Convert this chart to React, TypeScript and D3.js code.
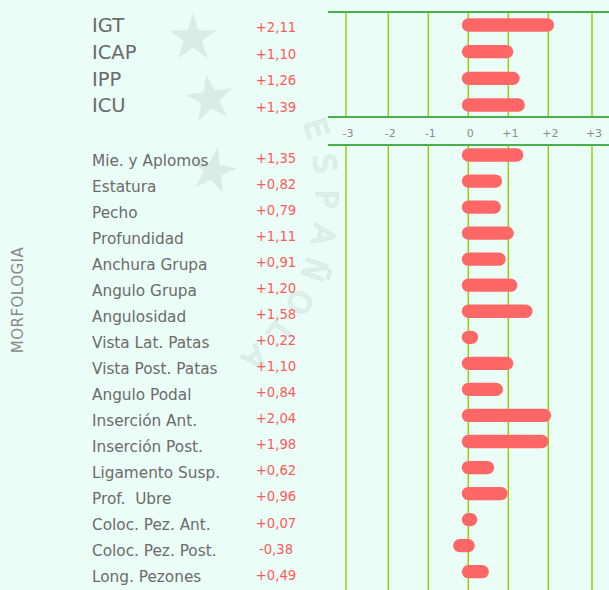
import React from "react";
import * as d3 from "d3";

const topCategories = ["IGT", "ICAP", "IPP", "ICU"];
const topValues = [2.11, 1.1, 1.26, 1.39];

const morphCategories = [
  "Mie. y Aplomos",
  "Estatura",
  "Pecho",
  "Profundidad",
  "Anchura Grupa",
  "Angulo Grupa",
  "Angulosidad",
  "Vista Lat. Patas",
  "Vista Post. Patas",
  "Angulo Podal",
  "Inserción Ant.",
  "Inserción Post.",
  "Ligamento Susp.",
  "Prof.  Ubre",
  "Coloc. Pez. Ant.",
  "Coloc. Pez. Post.",
  "Long. Pezones",
];
const morphValues = [
  1.35, 0.82, 0.79, 1.11, 0.91, 1.2, 1.58, 0.22, 1.1, 0.84, 2.04, 1.98, 0.62,
  0.96, 0.07, -0.38, 0.49,
];

const tickValues = [-3, -2, -1, 0, 1, 2, 3];
const sectionTitle = "MORFOLOGIA";
const watermarkText = "ESPAÑOLA";

const W = 609;
const H = 590;
const BG = "#eafdf7";
const FAINT = "#d9ede6";
const BAR = "#ff6666";
const VALUE = "#ff5a5a";
const LABEL = "#6b6b6b";
const FONT = "'DejaVu Sans', sans-serif";

const fmtValue = (v: number) =>
  (v >= 0 ? "+" : "-") + Math.abs(v).toFixed(2).replace(".", ",");
const fmtTick = (t: number) => (t > 0 ? "+" + t : String(t));

export default function App() {
  const x = d3
    .scaleLinear()
    .domain([-3, -2, 2, 3])
    .range([346, 388.3, 548.3, 592]);

  const yTop = d3.scalePoint<string>().domain(topCategories).range([25, 105]);
  const yBot = d3
    .scalePoint<string>()
    .domain(morphCategories)
    .range([155, 571.7]);

  const barH = 13.3;
  const barExtent = (v: number) => {
    if (v >= 0) {
      const x0 = x(0) - 6.5;
      const x1 = Math.max(x(v) + 1, x0 + 15.5);
      return [x0, x1];
    }
    return [x(v), x(0) + 6.5];
  };

  const topY0 = 12;
  const topY1 = 117;
  const botY0 = 145;

  // watermark (decorative logo)
  const cx = 108;
  const cy = 196;
  const r = 219;
  const letters = Array.from(watermarkText).map((ch, i) => {
    const a = -18 + i * 9.4;
    const rad = (a * Math.PI) / 180;
    return {
      ch,
      x: cx + r * Math.cos(rad),
      y: cy + r * Math.sin(rad),
      rot: a + 90,
    };
  });
  const star = d3.symbol(d3.symbolStar);
  const stars = [
    { x: 193, y: 38, s: 700, rot: 0 },
    { x: 210, y: 99, s: 700, rot: -8 },
    { x: 213, y: 171, s: 650, rot: 12 },
  ];

  const renderBars = (
    cats: string[],
    vals: number[],
    y: d3.ScalePoint<string>
  ) =>
    cats.map((c, i) => {
      const [x0, x1] = barExtent(vals[i]);
      const yc = y(c) as number;
      return (
        <rect
          key={c}
          x={x0}
          y={yc - barH / 2}
          width={x1 - x0}
          height={barH}
          rx={barH / 2}
          ry={barH / 2}
          fill={BAR}
        />
      );
    });

  return (
    <svg
      width={W}
      height={H}
      style={{ position: "absolute", left: 0, top: 0, display: "block" }}
      fontFamily={FONT}
    >
      <rect x={0} y={0} width={W} height={H} fill={BG} />

      {/* faint watermark */}
      <g>
        {stars.map((s, i) => (
          <path
            key={i}
            d={star.size(s.s)() as string}
            transform={`translate(${s.x},${s.y}) rotate(${s.rot})`}
            fill={FAINT}
          />
        ))}
        {letters.map((l, i) => (
          <text
            key={"wm" + i}
            transform={`translate(${l.x},${l.y}) rotate(${l.rot})`}
            textAnchor="middle"
            dominantBaseline="central"
            fontSize={30}
            fill="#e0f3ec"
            stroke={FAINT}
            strokeWidth={1.5}
          >
            {l.ch}
          </text>
        ))}
      </g>

      {/* vertical grid lines */}
      {tickValues.map((t) => (
        <g key={"g" + t}>
          <line
            x1={x(t)}
            x2={x(t)}
            y1={topY0}
            y2={topY1}
            stroke="#99cc00"
            strokeWidth={1.4}
          />
          <line
            x1={x(t)}
            x2={x(t)}
            y1={botY0}
            y2={H}
            stroke="#99cc00"
            strokeWidth={1.4}
          />
        </g>
      ))}

      {/* horizontal green rules */}
      {[topY0, topY1, botY0].map((yy) => (
        <line
          key={"h" + yy}
          x1={328}
          x2={W}
          y1={yy}
          y2={yy}
          stroke="#4cae4c"
          strokeWidth={2}
        />
      ))}

      {/* tick labels */}
      {tickValues.map((t) => (
        <text
          key={"t" + t}
          x={x(t) + 2}
          y={137}
          textAnchor="middle"
          fontSize={11}
          fill="#8a8a8a"
        >
          {fmtTick(t)}
        </text>
      ))}

      {/* bars */}
      {renderBars(topCategories, topValues, yTop)}
      {renderBars(morphCategories, morphValues, yBot)}

      {/* top labels */}
      {topCategories.map((c, i) => {
        const yc = yTop(c) as number;
        return (
          <g key={"tl" + c}>
            <text x={92} y={yc + 7.3} fontSize={19.5} fill={LABEL}>
              {c}
            </text>
            <text
              x={276}
              y={yc + 6.9}
              textAnchor="middle"
              fontSize={13.2}
              fill={VALUE}
            >
              {fmtValue(topValues[i])}
            </text>
          </g>
        );
      })}

      {/* morphology labels */}
      {morphCategories.map((c, i) => {
        const yc = yBot(c) as number;
        return (
          <g key={"bl" + c}>
            <text
              x={92}
              y={yc + 10.5}
              fontSize={15.3}
              fill={LABEL}
              style={{ whiteSpace: "pre" }}
            >
              {c}
            </text>
            <text
              x={276}
              y={yc + 7.9}
              textAnchor="middle"
              fontSize={13.2}
              fill={VALUE}
            >
              {fmtValue(morphValues[i])}
            </text>
          </g>
        );
      })}

      {/* section title */}
      <text
        transform="translate(23,300) rotate(-90)"
        textAnchor="middle"
        fontSize={15}
        letterSpacing={0.5}
        fill="#8a8a8a"
      >
        {sectionTitle}
      </text>
    </svg>
  );
}
